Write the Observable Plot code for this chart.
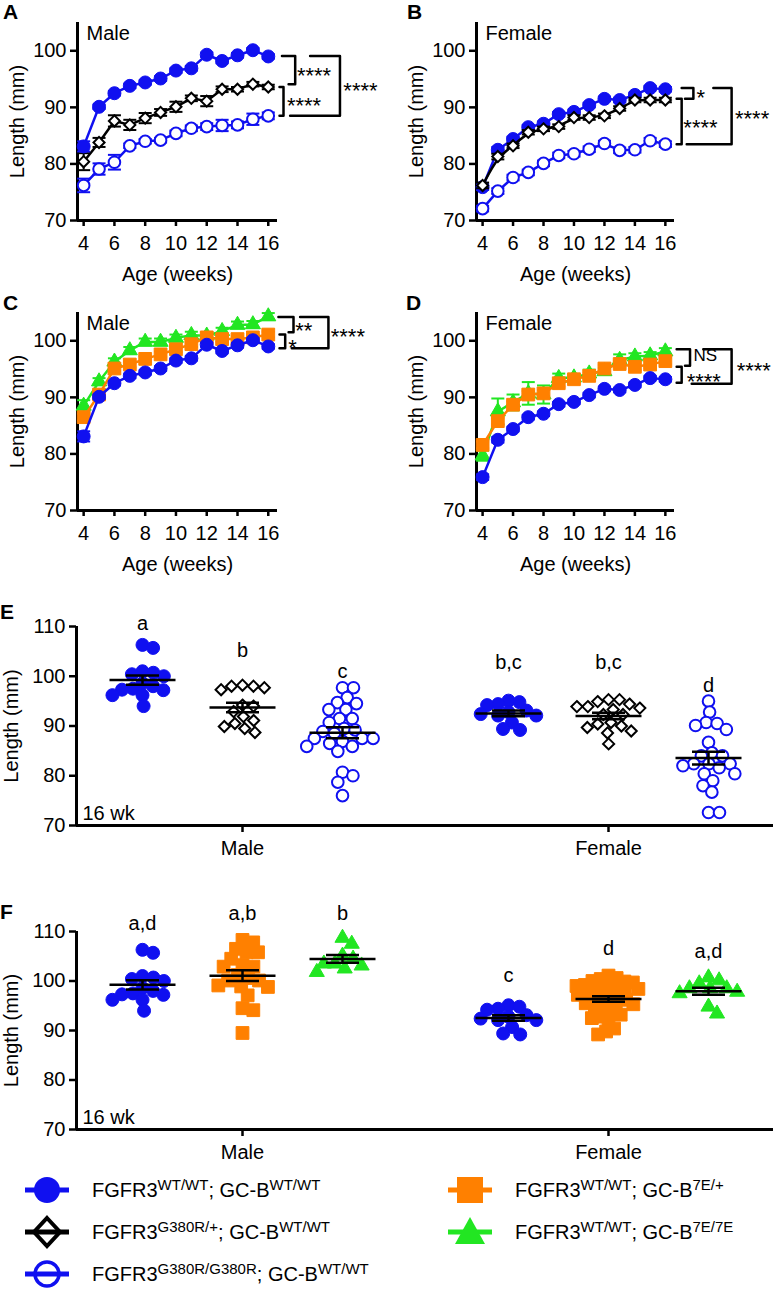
<!DOCTYPE html>
<html><head><meta charset="utf-8">
<script src="https://cdn.jsdelivr.net/npm/d3@7"></script>
<script src="https://cdn.jsdelivr.net/npm/@observablehq/plot@0.6"></script>
<style>
body{margin:0;background:#fff;}
#root{position:relative;width:780px;height:1291px;font-family:"Liberation Sans",Arial,Helvetica,sans-serif;color:#000;overflow:hidden;background:#fff}
.letter{position:absolute;font-weight:bold;font-size:21px;line-height:1}
.legtext{position:absolute;font-size:20px;line-height:24px;white-space:nowrap}
.legtext sup{font-size:15px;vertical-align:baseline;position:relative;top:-0.5em}
</style></head><body><div id="root"></div>
<script>
// ---------------- DATA ----------------
const weeks = [4,5,6,7,8,9,10,11,12,13,14,15,16];
const weekTicks = [4,6,8,10,12,14,16];
const lineYTicks = [70,80,90,100];
const dotYTicks = [70,80,90,100,110];
const sexes = ["Male","Female"];

// Panel A (male)
const maleWT      = [83.1,90.1,92.5,93.8,94.4,95.1,96.5,96.9,99.3,98.2,99.2,100.1,99.0];
const maleWTsem   = [0.9,0.4,0.4,0.4,0.4,0.4,0.4,0.4,0.4,0.4,0.4,0.4,0.4];
const maleHet     = [80.4,83.8,87.6,86.9,88.1,89.1,90.1,91.6,91.1,93.2,93.2,94.1,93.6];
const maleHetSem  = [1.5,0.8,1.0,0.9,0.9,0.6,0.9,0.5,0.9,0.5,0.4,0.4,0.4];
const maleHom     = [76.2,79.1,80.3,83.2,84.0,84.2,85.4,86.3,86.6,86.8,86.9,87.9,88.5];
const maleHomSem  = [1.2,1.0,1.3,0.4,0.4,0.4,0.5,0.5,0.6,1.0,0.6,1.0,0.6];
// Panel B (female)
const femWT       = [75.9,82.5,84.4,86.5,87.1,88.8,89.2,90.4,91.5,91.3,92.2,93.4,93.2];
const femWTsem    = [0.5,0.5,0.4,0.4,0.4,0.4,0.4,0.4,0.4,0.4,0.4,0.4,0.4];
const femHet      = [76.2,81.3,83.2,85.6,86.2,86.6,88.2,88.2,88.5,89.8,91.3,91.3,91.3];
const femHetSem   = [0.5,0.5,0.4,0.4,0.4,0.4,0.4,0.4,0.4,0.4,0.4,0.4,0.4];
const femHom      = [72.1,75.2,77.6,78.5,80.1,81.5,81.8,82.6,83.6,82.4,82.5,84.1,83.5];
const femHomSem   = [0.5,0.5,0.5,0.5,0.5,0.5,0.5,0.5,0.5,0.5,0.5,0.5,0.5];
// Panel C (male, GC-B)
const male7E      = [86.5,90.5,95.1,95.8,96.8,97.6,98.5,99.4,100.6,100.3,100.3,100.6,101.1];
const male7Esem   = [0.6,0.5,0.5,0.5,0.5,0.5,0.5,0.5,0.5,0.5,0.5,0.5,0.5];
const male7E7E    = [88.5,92.8,96.3,98.3,99.8,99.8,100.5,101.0,100.9,101.7,102.8,102.9,104.3];
const male7E7Esem = [1.0,0.6,0.6,0.6,0.6,0.6,0.6,0.6,0.6,0.6,0.6,0.6,0.6];
// Panel D (female, GC-B)
const fem7E       = [81.6,85.8,88.7,90.5,90.7,92.5,93.2,93.8,95.1,95.9,95.4,95.8,96.4];
const fem7Esem    = [0.6,0.6,0.6,0.6,0.6,0.6,0.6,0.6,0.6,0.6,0.6,0.6,0.6];
const fem7E7E     = [79.7,87.5,89.1,90.7,90.5,93.4,93.5,94.2,94.6,96.6,97.2,97.4,98.1];
const fem7E7Esem  = [0.9,2.3,1.4,2.0,1.6,0.8,0.6,0.7,0.6,1.0,0.6,0.6,0.6];

// Panels E / F : individual animals at 16 weeks
const e_maleWT  = [106.3,105.7,101.0,100.7,100.4,100.0,98.6,98.0,97.5,97.3,97.2,96.2,96.2,94.0];
const e_maleHet = [98.2,98.0,98.0,97.7,97.3,94.2,94.0,92.9,91.9,91.1,90.5,89.9,89.5,88.7];
const e_maleHom = [97.7,97.7,95.7,94.7,94.5,93.3,93.3,91.5,91.5,90.7,89.5,89.2,88.9,88.5,87.5,87.5,87.5,86.9,86.5,85.9,85.9,84.9,80.7,80.0,78.7,76.0];
const e_femWT   = [95.1,94.8,94.4,94.2,93.1,92.8,92.4,92.1,92.1,90.7,89.4,89.2];
const e_femHet  = [95.3,95.3,94.9,94.4,93.9,93.9,93.6,93.3,92.3,92.3,90.7,90.4,90.0,89.7,89.0,88.6,86.4];
const e_femHom  = [95.0,92.8,90.7,90.5,90.1,89.3,86.7,84.6,84.0,84.0,82.4,82.4,82.4,82.0,81.6,80.4,80.4,79.0,78.0,76.7,72.6,72.6];
const f_male7E   = [108.3,107.8,106.5,105.8,105.8,104.5,103.2,102.9,102.9,101.2,100.6,100.1,100.1,99.1,98.9,98.8,97.1,94.5,94.1,89.5];
const f_male7E7E = [108.7,107.5,105.1,104.5,103.5,103.5,103.1,102.5,101.8];
const f_fem7E    = [101.1,100.6,100.4,100.0,99.9,99.7,99.4,99.2,99.0,98.8,98.5,98.4,98.1,97.9,97.6,97.5,97.2,96.9,96.7,96.4,96.2,95.8,95.5,95.3,94.9,94.6,94.1,93.6,93.2,92.8,92.5,91.7,90.4,89.8,89.2];
const f_fem7E7E  = [100.7,100.1,99.5,98.5,98.5,98.5,97.8,97.5,94.8,93.4];

const eLetters = ["a","b","c","b,c","b,c","d"];
const fLetters = ["a,d","a,b","b","c","d","a,d"];

// ---------------- STYLE ----------------
const BLUE = "#1010f0", ORANGE = "#ff8000", GREEN = "#22e622";
const FONT = '"Liberation Sans", Arial, Helvetica, sans-serif';
const DIAMOND = d3.symbolDiamond2 || "diamond";
const capSym = hw => ({draw(ctx){ ctx.moveTo(-hw,0); ctx.lineTo(hw,0); }});

const STY = {
  WT:   {color: BLUE,   symbol: "circle",   fill: BLUE,    r: 6.5, sw: 1},
  het:  {color: "black",symbol: DIAMOND,    fill: "white", r: 5.0, sw: 2},
  hom:  {color: BLUE,   symbol: "circle",   fill: "white", r: 5.8, sw: 2},
  e7:   {color: ORANGE, symbol: "square",   fill: ORANGE,  r: 7.2, sw: 1},
  e77:  {color: GREEN,  symbol: "triangle", fill: GREEN,   r: 5.6, sw: 1}
};

const root = document.getElementById("root");
function place(node, left, top){ node.style.position="absolute"; node.style.left=left+"px"; node.style.top=top+"px"; root.appendChild(node); }
const last = a => a[a.length-1];

// ---------------- LINE PANELS ----------------
function linePanel({left, top, marginLeft, frameW, series, sex, brackets}){
  const marginTop = 22, frameH = 198, height = 292, width = 390;
  const marks = [
    Plot.ruleX([3.6], {stroke:"black", strokeWidth:3}),
    Plot.ruleY([70], {stroke:"black", strokeWidth:3}),
    Plot.axisY({ticks: lineYTicks, tickSize:7, tickPadding:4, fontSize:20, strokeWidth:2.5, label:null}),
    Plot.axisX({ticks: weekTicks, tickSize:6, tickPadding:9, fontSize:20, strokeWidth:2.5, label:null})
  ];
  for (const s of series){
    const st = STY[s.kind];
    const rows = weeks.map((w,i)=>({w, v:s.values[i], lo:s.values[i]-s.sem[i], hi:s.values[i]+s.sem[i]}));
    marks.push(Plot.line(rows, {x:"w", y:"v", stroke:st.color, strokeWidth:2.5, curve: s.curve || "linear"}));
    marks.push(Plot.ruleX(rows, {x:"w", y1:"lo", y2:"hi", stroke:st.color, strokeWidth:2}));
    marks.push(Plot.dot(rows, {x:"w", y:"lo", symbol:capSym(6.5), r:3, fill:"none", stroke:st.color, strokeWidth:2}));
    marks.push(Plot.dot(rows, {x:"w", y:"hi", symbol:capSym(6.5), r:3, fill:"none", stroke:st.color, strokeWidth:2}));
    marks.push(Plot.dot(rows, {x:"w", y:"v", symbol:st.symbol, r:st.r, fill:st.fill, stroke:st.color, strokeWidth:st.sw}));
  }
  for (const b of brackets){
    marks.push(Plot.line(b.pts, {x:d=>d[0], y:d=>d[1], stroke:"black", strokeWidth:2.5}));
    const ns = b.label === "NS";
    marks.push(Plot.text([b], {x:"lx", y:"ly", text:"label", textAnchor:"start", lineAnchor:"middle", dy: ns ? 0 : 7, fontSize: ns ? 17 : 22}));
  }
  marks.push(Plot.text([sex], {text:d=>d, frameAnchor:"top-left", dx:9, dy:11, textAnchor:"start", lineAnchor:"middle", fontSize:20}));
  marks.push(Plot.text(["Age (weeks)"], {text:d=>d, frameAnchor:"bottom", dy:54, textAnchor:"middle", lineAnchor:"middle", fontSize:20}));
  marks.push(Plot.text(["Length (mm)"], {text:d=>d, frameAnchor:"left", dx:-60, rotate:-90, textAnchor:"middle", lineAnchor:"middle", fontSize:20}));
  const svg = Plot.plot({
    width, height, marginLeft, marginTop, marginRight: width - marginLeft - frameW, marginBottom: height - marginTop - frameH,
    x: {domain:[3.6,16.6]}, y: {domain:[70,105]},
    style: {fontFamily: FONT, fontSize:"20px", overflow:"visible", background:"transparent", color:"black"},
    marks
  });
  place(svg, left, top);
}

linePanel({left:0, top:0, marginLeft:77, frameW:200, sex:"Male",
  series:[{kind:"hom", values:maleHom, sem:maleHomSem},{kind:"het", values:maleHet, sem:maleHetSem},{kind:"WT", values:maleWT, sem:maleWTsem}],
  brackets:[
    {pts:[[16.89,99.1],[17.75,99.1],[17.75,94.1],[17.32,94.1]], label:"****", lx:17.86, ly:96.8},
    {pts:[[16.73,93.6],[16.99,93.6],[16.99,last(maleHom)],[16.73,last(maleHom)]], label:"****", lx:17.21, ly:91.5},
    {pts:[[18.72,99.1],[20.66,99.1],[20.66,last(maleHom)],[17.42,last(maleHom)]], label:"****", lx:20.88, ly:94.2}
  ]});
linePanel({left:390, top:0, marginLeft:86, frameW:198, sex:"Female",
  series:[{kind:"hom", values:femHom, sem:femHomSem},{kind:"WT", values:femWT, sem:femWTsem},{kind:"het", values:femHet, sem:femHetSem, curve:"basis"}],
  brackets:[
    {pts:[[17.07,93.4],[17.84,93.4],[17.84,91.5],[17.29,91.5]], label:"*", lx:18.05, ly:92.9},
    {pts:[[16.74,91.5],[17.07,91.5],[17.07,last(femHom)],[16.74,last(femHom)]], label:"****", lx:17.18, ly:87.6},
    {pts:[[19.15,93.4],[20.35,93.4],[20.35,last(femHom)],[17.4,last(femHom)]], label:"****", lx:20.57, ly:89.1}
  ]});
linePanel({left:0, top:290, marginLeft:77, frameW:200, sex:"Male",
  series:[{kind:"e77", values:male7E7E, sem:male7E7Esem},{kind:"e7", values:male7E, sem:male7Esem},{kind:"WT", values:maleWT, sem:maleWTsem}],
  brackets:[
    {pts:[[16.66,104.2],[17.64,104.2],[17.64,101.5],[17.32,101.5]], label:"**", lx:17.75, ly:102.9},
    {pts:[[16.73,101.1],[17.1,101.1],[17.1,98.7],[16.73,98.7]], label:"*", lx:17.3, ly:100.0},
    {pts:[[18.07,104.2],[19.91,104.2],[19.91,98.7],[17.53,98.7]], label:"****", lx:20.06, ly:101.9}
  ]});
linePanel({left:390, top:290, marginLeft:86, frameW:198, sex:"Female",
  series:[{kind:"e77", values:fem7E7E, sem:fem7E7Esem},{kind:"e7", values:fem7E, sem:fem7Esem},{kind:"WT", values:femWT, sem:femWTsem}],
  brackets:[
    {pts:[[16.74,98.5],[17.62,98.5],[17.62,95.6],[17.29,95.6]], label:"NS", lx:17.84, ly:97.4},
    {pts:[[16.74,95.4],[17.07,95.4],[17.07,92.6],[16.74,92.6]], label:"****", lx:17.4, ly:94.0},
    {pts:[[18.49,98.5],[20.35,98.5],[20.35,92.4],[17.73,92.4]], label:"****", lx:20.68, ly:95.9}
  ]});

// ---------------- DOT PANELS ----------------
function swarm(values, k, D){
  const order = d3.range(values.length).sort((a,b)=> values[b]-values[a] || a-b);
  const placed = [], out = new Array(values.length);
  for (const i of order){
    const y = values[i]*k;
    const cands = [0];
    for (const p of placed){
      const dy = Math.abs(p.y-y);
      if (dy < D){ const dx = Math.sqrt(D*D-dy*dy); cands.push(p.x+dx, p.x-dx); }
    }
    cands.sort((a,b)=> Math.abs(a)-Math.abs(b) || b-a);
    let x = 0;
    for (const c of cands){
      if (placed.every(p => (p.x-c)**2 + (p.y-y)**2 >= D*D-1e-6)){ x = c; break; }
    }
    placed.push({x,y}); out[i] = x;
  }
  return out;
}

const sexCenter = [1, 4.66];
function dotPanel({top, marginTop, frameH, groups, letters, letterY}){
  const width = 780, marginLeft = 76, marginRight = 7, height = marginTop + frameH + 40;
  const xDomain = [-0.66, 6.31];
  const pxPerX = (width-marginLeft-marginRight)/(xDomain[1]-xDomain[0]);
  const pxPerY = frameH/40;
  const pos = [sexCenter[0]-1, sexCenter[0], sexCenter[0]+1, sexCenter[1]-1, sexCenter[1], sexCenter[1]+1];
  const marks = [
    Plot.ruleX([xDomain[0]], {stroke:"black", strokeWidth:3}),
    Plot.ruleY([70], {stroke:"black", strokeWidth:3}),
    Plot.axisY({ticks: dotYTicks, tickSize:7, tickPadding:4, fontSize:20, strokeWidth:2.5, label:null}),
    Plot.axisX({ticks: sexCenter, tickFormat: d => sexes[sexCenter.indexOf(d)], tickSize:7, tickPadding:8, fontSize:20, strokeWidth:2.5, label:null})
  ];
  const stats = [];
  groups.forEach((g,j)=>{
    const st = STY[g.kind];
    const off = swarm(g.values, pxPerY, g.spacing || 11);
    const rows = g.values.map((v,i)=>({x: pos[j] + off[i]/pxPerX, v}));
    marks.push(Plot.dot(rows, {x:"x", y:"v", symbol:st.symbol, r:st.r, fill:st.fill, stroke:st.color, strokeWidth:st.sw}));
    const m = d3.mean(g.values), se = d3.deviation(g.values)/Math.sqrt(g.values.length);
    stats.push({x:pos[j], m, lo:m-se, hi:m+se, letter:letters[j], ly:letterY[j]});
  });
  marks.push(Plot.ruleX(stats, {x:"x", y1:"lo", y2:"hi", stroke:"black", strokeWidth:2.5}));
  marks.push(Plot.dot(stats, {x:"x", y:"m", symbol:capSym(33), r:3, fill:"none", stroke:"black", strokeWidth:2.5}));
  marks.push(Plot.dot(stats, {x:"x", y:"lo", symbol:capSym(16.5), r:3, fill:"none", stroke:"black", strokeWidth:2.5}));
  marks.push(Plot.dot(stats, {x:"x", y:"hi", symbol:capSym(16.5), r:3, fill:"none", stroke:"black", strokeWidth:2.5}));
  marks.push(Plot.text(stats, {x:"x", y:"ly", text:"letter", lineAnchor:"middle", fontSize:20}));
  marks.push(Plot.text(["16 wk"], {text:d=>d, frameAnchor:"bottom-left", dx:6, dy:-12, textAnchor:"start", lineAnchor:"middle", fontSize:20}));
  marks.push(Plot.text(["Length (mm)"], {text:d=>d, frameAnchor:"left", dx:-65, rotate:-90, textAnchor:"middle", lineAnchor:"middle", fontSize:20}));
  const svg = Plot.plot({
    width, height, marginLeft, marginRight, marginTop, marginBottom: height-marginTop-frameH,
    x:{domain:xDomain}, y:{domain:[70,110]},
    style:{fontFamily:FONT, fontSize:"20px", overflow:"visible", background:"transparent", color:"black"},
    marks
  });
  place(svg, 0, top);
}

dotPanel({top:596, marginTop:30, frameH:199,
  groups:[{kind:"WT",values:e_maleWT},{kind:"het",values:e_maleHet},{kind:"hom",values:e_maleHom},
          {kind:"WT",values:e_femWT},{kind:"het",values:e_femHet},{kind:"hom",values:e_femHom}],
  letters:eLetters, letterY:[110.6,105.2,101.0,102.8,102.8,98.1]});
dotPanel({top:890, marginTop:41, frameH:198,
  groups:[{kind:"WT",values:e_maleWT},{kind:"e7",values:f_male7E},{kind:"e77",values:f_male7E7E},
          {kind:"WT",values:e_femWT},{kind:"e7",values:f_fem7E,spacing:8.5},{kind:"e77",values:f_fem7E7E}],
  letters:fLetters, letterY:[111.6,113.6,113.6,101.1,106.6,106.0]});

// ---------------- PANEL LETTERS ----------------
[["A",3,1],["B",407,1],["C",3,292],["D",406,292],["E",0,601],["F",0,901]].forEach(([t,x,y])=>{
  const d = document.createElement("div"); d.className="letter"; d.textContent=t; place(d,x,y);
});

// ---------------- LEGEND ----------------
const legendItems = [
  {kind:"WT",  col:0, row:0, a:"WT/WT", b:"WT/WT"},
  {kind:"het", col:0, row:1, a:"G380R/+", b:"WT/WT"},
  {kind:"hom", col:0, row:2, a:"G380R/G380R", b:"WT/WT"},
  {kind:"e7",  col:1, row:0, a:"WT/WT", b:"7E/+"},
  {kind:"e77", col:1, row:1, a:"WT/WT", b:"7E/7E"}
];
const rowY = [1190,1232,1274], symX = [47,470], textX = [92,515];
const ns = "http://www.w3.org/2000/svg";
legendItems.forEach(it=>{
  const st = STY[it.kind];
  const svg = document.createElementNS(ns,"svg");
  svg.setAttribute("width",52); svg.setAttribute("height",36);
  const cx = 26, cy = 18;
  const line = `<line x1="4" x2="48" y1="${cy}" y2="${cy}" stroke="${st.color}" stroke-width="5"/>`;
  let shape = "";
  if (it.kind==="WT") shape = `<circle cx="${cx}" cy="${cy}" r="13" fill="${BLUE}"/>`;
  if (it.kind==="hom") shape = `<circle cx="${cx}" cy="${cy}" r="12" fill="none" stroke="${BLUE}" stroke-width="3.5"/>`;
  if (it.kind==="het") shape = `<path d="M${cx},${cy-14}L${cx+13},${cy}L${cx},${cy+14}L${cx-13},${cy}Z" fill="none" stroke="black" stroke-width="4"/>`;
  if (it.kind==="e7") shape = `<rect x="${cx-13}" y="${cy-13}" width="26" height="26" fill="${ORANGE}"/>`;
  if (it.kind==="e77") shape = `<path d="M${cx},${cy-15}L${cx+15},${cy+12}L${cx-15},${cy+12}Z" fill="${GREEN}"/>`;
  svg.innerHTML = (it.kind==="WT"||it.kind==="e7"||it.kind==="e77") ? line+shape : shape+line;
  place(svg, symX[it.col]-cx, rowY[it.row]-cy);
  const t = document.createElement("div"); t.className="legtext";
  t.innerHTML = `FGFR3<sup>${it.a}</sup>; GC-B<sup>${it.b}</sup>`;
  place(t, textX[it.col], rowY[it.row]-12);
});
</script></body></html>
